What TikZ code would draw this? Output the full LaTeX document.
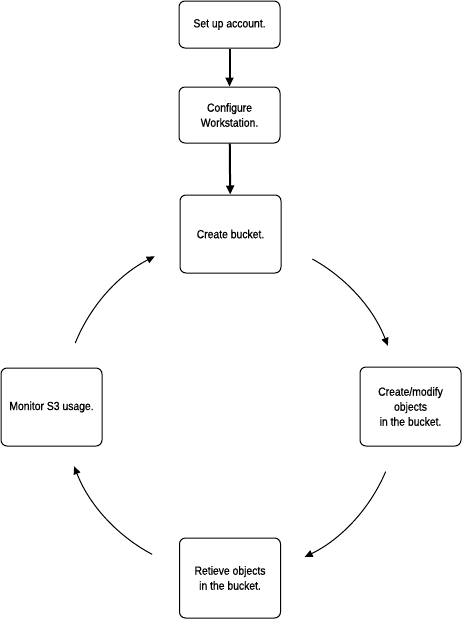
\documentclass[tikz,border=0pt]{standalone}
\usepackage{fontspec}
\setmainfont{Liberation Sans}[FakeStretch=0.88, FakeBold=0.6]
\usetikzlibrary{arrows.meta}
\begin{document}
\begin{tikzpicture}[x=1pt,y=-1pt,
  box/.style={draw, line width=1pt, rounded corners=6pt, minimum width=101pt, align=center,
    font=\fontsize{11.8}{15}\selectfont, inner sep=0pt},
  thick arrow/.style={line width=2pt, -{Triangle[length=9pt,width=8pt]}},
  thin arrow/.style={line width=1pt, -{Triangle[length=8pt,width=7pt]}}]
\useasboundingbox (0,0) rectangle (462,619);
\node[box, minimum height=47pt] (b1) at (229.5,24.5) {Set up account.};
\node[box, minimum height=56pt] (b2) at (229.5,115) {Configure\\Workstation.};
\node[box, minimum height=78pt] (b3) at (230.5,234) {Create bucket.};
\node[box, minimum height=79pt] (b4) at (410.5,406.5) {Create/modify\\objects\\in the bucket.};
\node[box, minimum height=80pt] (b5) at (230,578) {Retieve objects\\in the bucket.};
\node[box, minimum height=78pt] (b6) at (51.5,407) {Monitor S3 usage.};
\draw[thick arrow] (b1) -- (b2);
\draw[thick arrow] (b2) -- (b3);
\coordinate (c) at (231,406);
\draw[thin arrow] ([shift={(-61:168)}]c) arc[start angle=-61, end angle=-21, radius=168];
\draw[thin arrow] ([shift={(23:168)}]c) arc[start angle=23, end angle=64, radius=168];
\draw[thin arrow] ([shift={(118:168)}]c) arc[start angle=118, end angle=159, radius=168];
\draw[thin arrow] ([shift={(202:168)}]c) arc[start angle=202, end angle=243, radius=168];
\end{tikzpicture}
\end{document}
